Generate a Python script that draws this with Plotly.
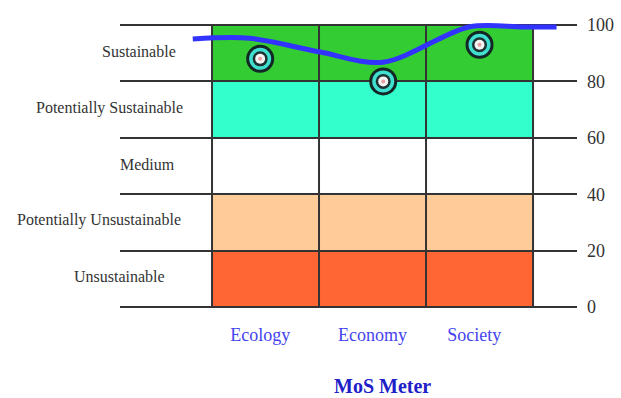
import plotly.graph_objects as go

# ---- data ----
categories = ["Ecology", "Economy", "Society"]
category_pos = [0.45, 1.5, 2.45]
marker_x = [0.45, 1.6, 2.5]
marker_values = [88, 80, 93]
band_labels = ["Sustainable", "Potentially Sustainable", "Medium",
               "Potentially Unsustainable", "Unsustainable"]
band_low = [80, 60, 40, 20, 0]
band_high = [100, 80, 60, 40, 20]
band_colors = ["#33CC33", "#33FFCC", "#FFFFFF", "#FFCC99", "#FF6633"]
tick_values = [0, 20, 40, 60, 80, 100]
curve_x = [-0.18, 0.35, 1.0, 1.6, 2.4, 2.9, 3.22]
curve_y = [95.0, 95.3, 90.5, 86.8, 99.3, 99.3, 99.3]

# ---- style ----
label_right_px = [178, 185, 177, 183, 167]
SERIF = "Liberation Serif"

fig = go.Figure()

# coloured bands
shapes = []
for lo, hi, col in zip(band_low, band_high, band_colors):
    shapes.append(dict(type="rect", xref="x", yref="y", x0=0, x1=3, y0=lo, y1=hi,
                       fillcolor=col, line=dict(width=0), layer="below"))
for i in range(4):
    shapes.append(dict(type="line", xref="x", yref="y", x0=i, x1=i, y0=0, y1=100,
                       line=dict(color="#333333", width=2), layer="between"))

# blue curve
fig.add_trace(go.Scatter(x=curve_x, y=curve_y, mode="lines",
                         line=dict(color="#3333FF", width=5, shape="spline", smoothing=0.9),
                         hoverinfo="skip", showlegend=False))

# markers (layered)
for size, col in [(28, "#142626"), (22, "#3FE0D0"), (15, "#1E3030"), (10, "#F4F4F4"), (4, "#E8A0A0")]:
    fig.add_trace(go.Scatter(x=marker_x, y=marker_values, mode="markers",
                             marker=dict(size=size, color=col, line=dict(width=0)),
                             hoverinfo="skip", showlegend=False))

annotations = []
for lab, lo, hi, rpx in zip(band_labels, band_low, band_high, label_right_px):
    annotations.append(dict(x=0, y=(lo + hi) / 2, xref="x", yref="y", text=lab,
                            showarrow=False, xanchor="right", yanchor="middle",
                            xshift=rpx - 212, yshift=2,
                            font=dict(family=SERIF, size=16, color="#333333")))
annotations.append(dict(x=1.59, y=-0.265, xref="x", yref="paper", text="<b>MoS Meter</b>",
                        showarrow=False, xanchor="center", yanchor="middle",
                        font=dict(family=SERIF, size=20, color="#2020C8")))

fig.update_layout(
    width=621, height=398,
    margin=dict(l=120, r=44, t=22, b=88, autoexpand=False),
    paper_bgcolor="white", plot_bgcolor="white",
    shapes=shapes, annotations=annotations,
    xaxis=dict(range=[-0.86, 3.411], showgrid=False, zeroline=False, showline=False,
               tickvals=category_pos, ticktext=categories, ticks="",
               ticklabelstandoff=12, automargin=False,
               tickfont=dict(family=SERIF, size=18, color="#4444EE")),
    yaxis=dict(range=[-1.06, 101.06], side="right", showgrid=True,
               gridcolor="#333333", gridwidth=2, zeroline=False, showline=False,
               tickvals=tick_values, ticks="", ticklabelstandoff=9, automargin=False,
               tickfont=dict(family=SERIF, size=18, color="#333333")),
)

fig.write_html("out.html")
